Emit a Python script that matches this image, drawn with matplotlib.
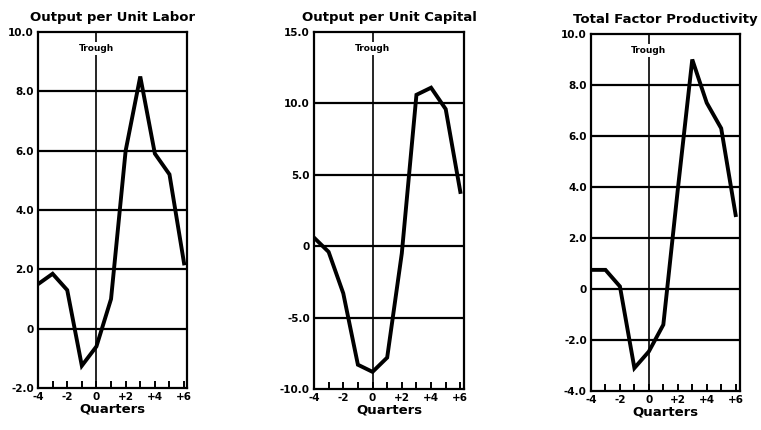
import matplotlib
matplotlib.use("Agg")
import matplotlib.pyplot as plt
from matplotlib.ticker import FixedLocator, MultipleLocator

plt.rcParams['font.family'] = ['DejaVu Sans']
plt.rcParams['font.weight'] = 'bold'

# Quarters relative to the cyclical trough
quarters = [-4, -3, -2, -1, 0, 1, 2, 3, 4, 5, 6]

# Percent change, annual rate
labor_values = [1.5, 1.85, 1.3, -1.25, -0.6, 1.0, 6.0, 8.5, 5.9, 5.2, 2.2]
capital_values = [0.6, -0.4, -3.3, -8.3, -8.8, -7.8, -0.5, 10.6, 11.1, 9.6, 3.8]
tfp_values = [0.75, 0.75, 0.1, -3.1, -2.45, -1.4, 3.9, 9.0, 7.3, 6.3, 2.9]

titles = ["Output per Unit Labor", "Output per Unit Capital", "Total Factor Productivity"]
x_tick_values = [-4, -2, 0, 2, 4, 6]
x_tick_labels = ["-4", "-2", "0", "+2", "+4", "+6"]

labor_yticks = [-2, 0, 2, 4, 6, 8, 10]
labor_ylabels = ["-2.0", "0", "2.0", "4.0", "6.0", "8.0", "10.0"]
capital_yticks = [-10, -5, 0, 5, 10, 15]
capital_ylabels = ["-10.0", "-5.0", "0", "5.0", "10.0", "15.0"]
tfp_yticks = [-4, -2, 0, 2, 4, 6, 8, 10]
tfp_ylabels = ["-4.0", "-2.0", "0", "2.0", "4.0", "6.0", "8.0", "10.0"]

W, H = 761, 430
fig = plt.figure(figsize=(W / 100, H / 100), dpi=100)

# panel boxes in pixels: left, right, top, bottom
boxes = [(38, 187, 32, 388), (314, 464, 32, 389), (591, 740, 34, 391)]
xlims = [(-4, 6.2), (-4, 6.25), (-4, 6.3)]

panels = [
    (labor_values, labor_yticks, labor_ylabels),
    (capital_values, capital_yticks, capital_ylabels),
    (tfp_values, tfp_yticks, tfp_ylabels),
]

for (values, yt, yl), title, (l, r, t, b), xl in zip(panels, titles, boxes, xlims):
    ax = fig.add_axes([l / W, 1 - b / H, (r - l) / W, (b - t) / H])
    ax.set_xlim(*xl)
    ax.set_ylim(yt[0], yt[-1])

    # horizontal rules at each labelled value
    for v in yt[1:-1]:
        ax.axhline(v, color='black', lw=1.6, zorder=1)

    # trough marker
    ax.axvline(0, color='black', lw=1.2, zorder=1)
    ax.text(0, yt[-1] - (yt[-1] - yt[0]) * 0.047, "Trough", ha='center', va='center',
            fontsize=6.5, fontweight='bold', zorder=2,
            bbox=dict(facecolor='white', edgecolor='none', pad=1.5))

    ax.plot(quarters, values, color='black', lw=2.8, solid_joinstyle='miter', zorder=3,
            clip_on=True)

    for s in ax.spines.values():
        s.set_linewidth(1.6)

    ax.xaxis.set_major_locator(FixedLocator(x_tick_values))
    ax.set_xticklabels(x_tick_labels)
    ax.xaxis.set_minor_locator(MultipleLocator(1))
    ax.tick_params(axis='x', which='both', direction='in', length=5, width=1.4,
                   labelsize=7.5, pad=3)
    ax.set_yticks(yt)
    ax.set_yticklabels(yl)
    ax.tick_params(axis='y', length=0, labelsize=7.5, pad=3)
    for lab in ax.get_xticklabels() + ax.get_yticklabels():
        lab.set_fontweight('bold')

    ax.set_xlabel("Quarters", fontsize=9.5, fontweight='bold', labelpad=0)
    ax.set_title(title, fontsize=9.5, fontweight='bold', pad=8)

fig.savefig("out.png", dpi=100)
